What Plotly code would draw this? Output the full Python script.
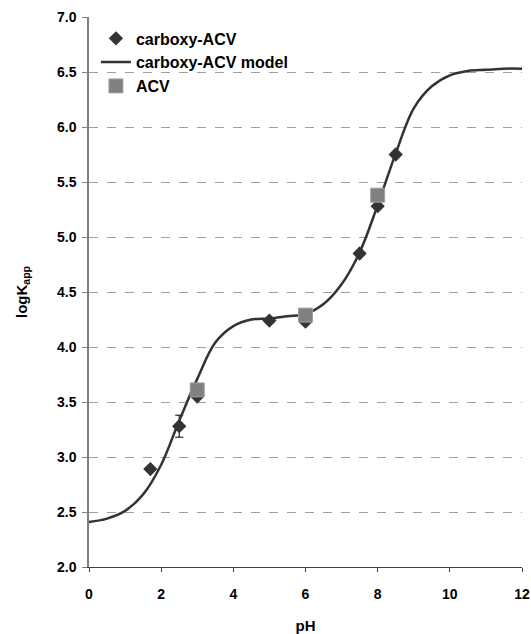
import plotly.graph_objects as go

# Measured carboxy-ACV binding constants
carboxy_ph = [1.7, 2.5, 3.0, 5.0, 6.0, 7.5, 8.0, 8.5]
carboxy_logk = [2.89, 3.28, 3.55, 4.24, 4.23, 4.85, 5.28, 5.75]
carboxy_err = [0, 0.1, 0, 0, 0, 0, 0, 0]

# Measured ACV binding constants
acv_ph = [3.0, 6.0, 8.0]
acv_logk = [3.61, 4.29, 5.38]

# Fitted carboxy-ACV model curve
model_ph = [0, 0.5, 1.0, 1.5, 2.0, 2.5, 3.0, 3.5, 4.0, 4.5, 5.0, 5.5, 6.0,
            6.5, 7.0, 7.5, 8.0, 8.5, 9.0, 9.5, 10.0, 10.5, 11.0, 11.5, 12.0]
model_logk = [2.41, 2.44, 2.51, 2.66, 2.93, 3.33, 3.71, 4.04, 4.19, 4.25, 4.26,
              4.28, 4.30, 4.39, 4.57, 4.86, 5.29, 5.76, 6.17, 6.37, 6.47, 6.51,
              6.52, 6.53, 6.53]

x_ticks = [0, 2, 4, 6, 8, 10, 12]
y_ticks = [2.0, 2.5, 3.0, 3.5, 4.0, 4.5, 5.0, 5.5, 6.0, 6.5, 7.0]

font = "Liberation Sans, Arial, sans-serif"

fig = go.Figure()

fig.add_trace(go.Scatter(
    x=carboxy_ph, y=carboxy_logk, mode="markers", name="carboxy-ACV",
    marker=dict(symbol="diamond", size=11, color="#333333"),
    error_y=dict(type="data", array=carboxy_err, visible=True,
                 color="#000000", thickness=1, width=4),
))
fig.add_trace(go.Scatter(
    x=model_ph, y=model_logk, mode="lines", name="carboxy-ACV model",
    line=dict(color="#333333", width=2.5, shape="spline", smoothing=1.0),
))
fig.add_trace(go.Scatter(
    x=acv_ph, y=acv_logk, mode="markers", name="ACV",
    marker=dict(symbol="square", size=14, color="#808080",
                line=dict(color="#a0a0a0", width=1)),
))

fig.update_layout(
    width=531, height=634,
    margin=dict(l=89, r=9, t=17, b=67),
    paper_bgcolor="white", plot_bgcolor="white",
    font=dict(family=font, size=14, color="#000000"),
    showlegend=True,
    legend=dict(
        x=0.016, y=0.992, xanchor="left", yanchor="top",
        bgcolor="rgba(0,0,0,0)", borderwidth=0,
        font=dict(family=font, size=16, color="#000000", weight="bold"),
        tracegroupgap=0, itemwidth=30,
    ),
    xaxis=dict(
        range=[0, 12], tickvals=x_ticks, ticktext=[str(v) for v in x_ticks],
        showgrid=False, zeroline=False, automargin=False,
        showline=True, linecolor="#404040", linewidth=1,
        ticks="outside", ticklen=4, tickcolor="#404040",
        ticklabelstandoff=10,
        tickfont=dict(family=font, size=14, weight="bold"),
        title=dict(text="<b>pH</b>", font=dict(family=font, size=15), standoff=20),
    ),
    yaxis=dict(
        range=[2.0, 7.0], tickvals=y_ticks,
        ticktext=[f"{v:.1f}" for v in y_ticks],
        showgrid=True, gridcolor="#a0a0a0", griddash="dash", gridwidth=1,
        zeroline=False, automargin=False,
        showline=True, linecolor="#808080", linewidth=1.5,
        ticks="outside", ticklen=5, tickcolor="#808080",
        ticklabelstandoff=3,
        tickfont=dict(family=font, size=14, weight="bold"),
        title=dict(text="<b>logK<sub>app</sub></b>",
                   font=dict(family=font, size=15), standoff=26),
    ),
)

fig.write_html("out.html")
